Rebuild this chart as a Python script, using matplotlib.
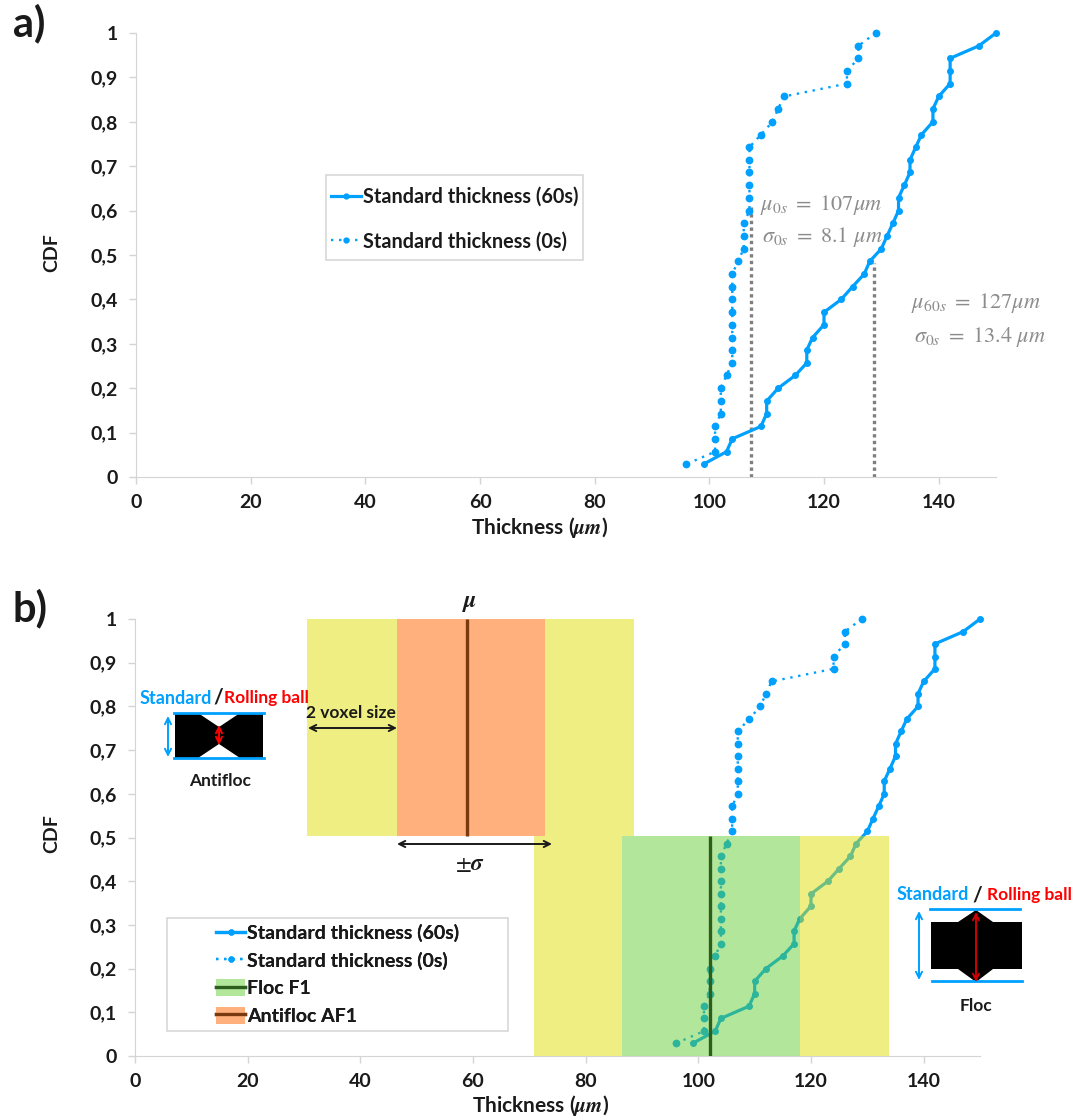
import matplotlib
matplotlib.use("Agg")
import matplotlib.pyplot as plt
from matplotlib.lines import Line2D
from matplotlib.patches import Patch, Polygon, Rectangle
from matplotlib.legend_handler import HandlerTuple

plt.rcParams["font.family"] = ["Lato", "DejaVu Sans"]
plt.rcParams["mathtext.fontset"] = "stix"

W, H = 1074, 1117

cdf_levels = [1.0, 0.971, 0.943, 0.914, 0.886, 0.857, 0.829, 0.8, 0.771, 0.743,
              0.714, 0.686, 0.657, 0.629, 0.6, 0.571, 0.543, 0.514, 0.486, 0.457,
              0.429, 0.4, 0.371, 0.343, 0.314, 0.286, 0.257, 0.229, 0.2, 0.171,
              0.143, 0.114, 0.086, 0.057, 0.029]
thick_60s = [150, 147, 142, 142, 142, 140, 139, 139, 137, 136,
             135, 135, 134, 133, 133, 132, 131, 130, 128, 127,
             125, 123, 120, 120, 118, 117, 117, 115, 112, 110,
             110, 109, 104, 103, 99]
thick_0s = [129, 126, 126, 124, 124, 113, 112, 111, 109, 107,
            107, 107, 107, 107, 107, 106, 106, 106, 105, 104,
            104, 104, 104, 104, 104, 104, 104, 103, 102, 102,
            102, 101, 101, 101, 96]

x_ticks = [0, 20, 40, 60, 80, 100, 120, 140]
y_ticks = [0, 0.1, 0.2, 0.3, 0.4, 0.5, 0.6, 0.7, 0.8, 0.9, 1]
y_tick_labels = ["0", "0,1", "0,2", "0,3", "0,4", "0,5", "0,6", "0,7", "0,8", "0,9", "1"]

guide_x = [107.3, 128.8]
guide_top = [0.61, 0.482]

# yellow side bands are split in two so they do not stack under the sigma bands
floc_mean, floc_sigma = 102, (86.5, 118.1)
floc_voxel = [(70.9, 86.5), (118.1, 133.9)]
anti_mean, anti_sigma = 59, (46.5, 72.8)
anti_voxel = [(30.6, 46.5), (72.8, 88.6)]
band_split = 0.504

BLUE = "#00A0FF"
GRAY = "#8C8C8C"
AXIS = "#D4D4D4"
TXT = "#1a1a1a"
FS = 14


def make_axes(fig, left, right, top, bottom):
    ax = fig.add_axes([left / W, 1 - bottom / H, (right - left) / W, (bottom - top) / H])
    ax.set_xlim(0, 150)
    ax.set_ylim(0, 1)
    ax.set_xticks(x_ticks)
    ax.set_yticks(y_ticks)
    ax.set_yticklabels(y_tick_labels)
    ax.tick_params(length=5, width=1, color=AXIS, labelsize=FS, labelcolor=TXT)
    ax.tick_params(axis="y", pad=8)
    ax.tick_params(axis="x", pad=7)
    for lab in ax.get_xticklabels() + ax.get_yticklabels():
        lab.set_fontweight("bold")
    for side in ("top", "right"):
        ax.spines[side].set_visible(False)
    for side in ("left", "bottom"):
        ax.spines[side].set_color(AXIS)
    return ax


def draw_curves(ax):
    ax.plot(thick_60s, cdf_levels, color=BLUE, lw=2.3, marker="o", ms=4, zorder=2, clip_on=False)
    ax.plot(thick_0s, cdf_levels, color=BLUE, lw=1.7, ls=(0, (1, 2.4)), marker="o", ms=4.6,
            zorder=2, clip_on=False)


fig = plt.figure(figsize=(W / 100, H / 100), dpi=100)

# panel a
ax_a = make_axes(fig, 136, 996, 33, 477)
draw_curves(ax_a)
ax_a.vlines(guide_x, 0, guide_top, color="#7F7F7F", lw=2.4, ls=(0, (1, 1)), zorder=1)

# panel b
ax_b = make_axes(fig, 135, 980, 619, 1056)
draw_curves(ax_b)
for lo, hi in anti_voxel:
    ax_b.axvspan(lo, hi, band_split, 1, fc=(224 / 255, 222 / 255, 0), alpha=0.49, lw=0, zorder=3)
ax_b.axvspan(*anti_sigma, band_split, 1, fc="#FFB07C", lw=0, zorder=3)
ax_b.vlines(anti_mean, band_split, 1, color="#7A3A10", lw=2.4, zorder=4)
for lo, hi in floc_voxel:
    ax_b.axvspan(lo, hi, 0, band_split, fc=(224 / 255, 222 / 255, 0), alpha=0.49, lw=0, zorder=3)
ax_b.axvspan(*floc_sigma, 0, band_split, fc=(94 / 255, 204 / 255, 46 / 255), alpha=0.48, lw=0, zorder=3)
ax_b.vlines(floc_mean, 0, band_split, color="#2E5E1E", lw=2.4, zorder=4)

# overlay in picture pixels for the annotations and the small sketches
ov = fig.add_axes([0, 0, 1, 1], zorder=10)
ov.set_xlim(0, W)
ov.set_ylim(H, 0)
ov.axis("off")


def label(x, y, s, size=12.5, color=TXT, ha="center", weight="bold", **kw):
    ov.text(x, y, s, fontsize=size, color=color, ha=ha, va="center", fontweight=weight, **kw)


def double_arrow(x0, y0, x1, y1, color, lw=1.4, scale=11):
    ov.annotate("", (x1, y1), (x0, y0),
                arrowprops=dict(arrowstyle="<->", color=color, lw=lw, mutation_scale=scale,
                                shrinkA=0, shrinkB=0))


label(29, 23, "a)", size=30)
label(30, 608, "b)", size=30)
label(52, 253, "CDF", size=FS, rotation=90)
label(52, 834, "CDF", size=FS, rotation=90)
label(540, 528, r"Thickness ($\boldsymbol{\mu m}$)", size=15)
label(541, 1105, r"Thickness ($\boldsymbol{\mu m}$)", size=15)

label(821.5, 205, r"$\mu_{0s}\ =\ 107\mu m$", size=16, color=GRAY, weight="normal")
label(822.5, 237, r"$\sigma_{0s}\ =\ 8.1\ \mu m$", size=16, color=GRAY, weight="normal")
label(976, 303, r"$\mu_{60s}\ =\ 127\mu m$", size=16, color=GRAY, weight="normal")
label(980, 337, r"$\sigma_{0s}\ =\ 13.4\ \mu m$", size=16, color=GRAY, weight="normal")

# legend a
line_60 = Line2D([], [], color=BLUE, lw=2.3, marker="o", ms=3.5)
line_0 = Line2D([], [], color=BLUE, lw=1.7, ls=(0, (1, 2.4)), marker="o", ms=3.5)
ov.add_patch(Rectangle((326, 175), 257, 85, fc="white", ec=AXIS, lw=1.1))
leg_a = ov.legend([line_60, line_0], ["Standard thickness (60s)", "Standard thickness (0s)"],
                  loc="upper left", bbox_to_anchor=(331 / W, 1 - 187 / H), frameon=False,
                  prop=dict(size=14.3, weight="bold"), labelcolor=TXT, handlelength=1.52,
                  handletextpad=0.1, labelspacing=1.22, borderpad=0, borderaxespad=0)
ov.add_artist(leg_a)

# legend b
floc_handle = (Patch(fc="#B2E79B"), Line2D([], [], color="#2E5E1E", lw=2.4))
anti_handle = (Patch(fc="#FFB07C"), Line2D([], [], color="#7A3A10", lw=2.4))
ov.add_patch(Rectangle((167, 918), 341, 113, fc="white", ec=AXIS, lw=1.1))
leg_b = ov.legend(
    [line_60, line_0, floc_handle, anti_handle],
    ["Standard thickness (60s)", "Standard thickness (0s)", "Floc F1", "Antifloc AF1"],
    handler_map={tuple: HandlerTuple(ndivide=1, pad=0)},
    loc="upper left", bbox_to_anchor=(216 / W, 1 - 924 / H), frameon=False,
    prop=dict(size=FS, weight="bold"), labelcolor=TXT, handlelength=1.5, handleheight=1.0,
    handletextpad=0.1, labelspacing=0.47, borderpad=0, borderaxespad=0)
ov.add_artist(leg_b)

# band annotations
label(470, 602, r"$\boldsymbol{\mu}$", size=17)
label(351, 713, "2 voxel size", size=12.5)
double_arrow(308, 728, 397, 728, "#1a1a1a")
double_arrow(397, 844, 552, 844, "#1a1a1a")
label(470, 864, r"$\pm\boldsymbol{\sigma}$", size=16.5)

# antifloc sketch
ov.add_patch(Polygon([(175, 713), (198, 713), (219, 727), (240, 713), (263, 713), (263, 758),
                      (240, 758), (219, 744), (198, 758), (175, 758)], fc="black", ec="none"))
ov.plot([174, 264], [713, 713], color=BLUE, lw=2)
ov.plot([174, 264], [758, 758], color=BLUE, lw=2)
double_arrow(168, 716, 168, 757, BLUE)
double_arrow(219, 725, 219, 745, "red")
label(140, 698, "Standard", size=13, color=BLUE, ha="left")
label(218, 698, "/", size=15, ha="center")
label(224, 698, "Rolling ball", color="red", ha="left")
label(220, 781, "Antifloc")

# floc sketch
ov.add_patch(Polygon([(931, 922), (958, 922), (976, 910), (993, 922), (1022, 922), (1022, 969),
                      (993, 969), (976, 982), (958, 969), (931, 969)], fc="black", ec="none"))
ov.plot([930, 1020], [909, 909], color=BLUE, lw=2)
ov.plot([932, 1022], [981, 981], color=BLUE, lw=2)
double_arrow(919, 911, 919, 980, BLUE)
double_arrow(976, 912, 976, 982, "#D00000")
label(897, 895, "Standard", size=13, color=BLUE, ha="left")
label(977, 895, "/", size=15, ha="center")
label(987, 895, "Rolling ball", color="red", ha="left")
label(976, 1006, "Floc")

fig.savefig("out.png", dpi=100)
